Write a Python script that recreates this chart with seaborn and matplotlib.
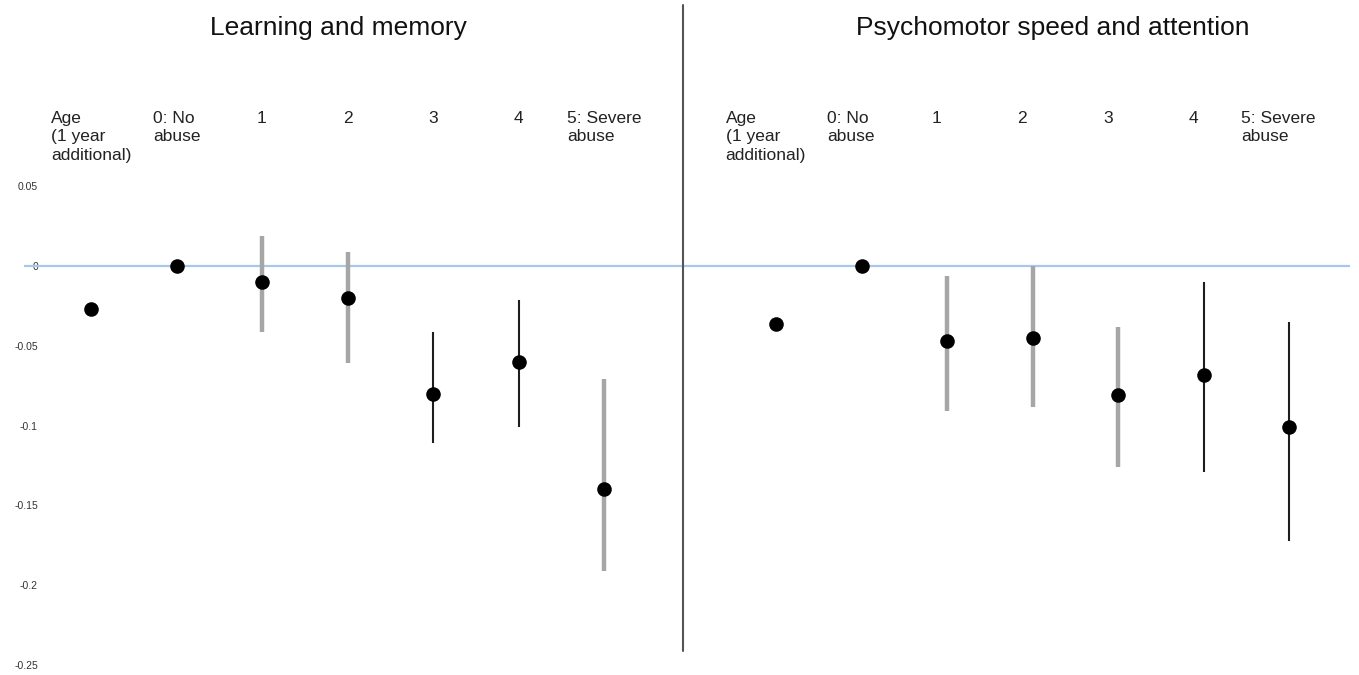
import numpy as np
import pandas as pd
import matplotlib
matplotlib.use('Agg')
import matplotlib.pyplot as plt
import seaborn as sns
from matplotlib.lines import Line2D

# 데이터
categories = ['Age\n(1 year\nadditional)', '0: No\nabuse', '1', '2', '3', '4', '5: Severe\nabuse']

learn_est = [-0.027, 0.0, -0.010, -0.020, -0.080, -0.060, -0.140]
learn_lo = [-0.029, 0.0, -0.041, -0.061, -0.111, -0.101, -0.191]
learn_hi = [-0.024, 0.0, 0.019, 0.009, -0.041, -0.021, -0.071]
learn_col = ['black', None, 'gray', 'gray', 'black', 'black', 'gray']

psy_est = [-0.036, 0.0, -0.047, -0.045, -0.081, -0.068, -0.101]
psy_lo = [-0.039, 0.0, -0.091, -0.088, -0.126, -0.129, -0.172]
psy_hi = [-0.033, 0.0, -0.006, 0.0, -0.038, -0.010, -0.035]
psy_col = ['black', None, 'gray', 'gray', 'gray', 'black', 'black']

ytick_vals = [0.05, 0, -0.05, -0.1, -0.15, -0.2, -0.25]
ytick_labels = ['0.05', '0', '-0.05', '-0.1', '-0.15', '-0.2', '-0.25']

titles = ['Learning and memory', 'Psychomotor speed and attention']

sns.set_style('white')
plt.rcParams['font.family'] = ['Liberation Sans', 'DejaVu Sans']

W, H = 1359, 675
fig = plt.figure(figsize=(W / 100, H / 100), dpi=100)

y0_px, scale = 266.3, 1597.0
ytop = (y0_px - 5) / scale
ybot = -0.25
step = 85.5


def make_ax(left_px, right_px, first_px):
    ax = fig.add_axes([left_px / W, (H - 665) / H, (right_px - left_px) / W, 660 / H])
    ax.set_xlim((left_px - first_px) / step, (right_px - first_px) / step)
    ax.set_ylim(ybot, ytop)
    for s in ax.spines.values():
        s.set_visible(False)
    return ax


ax1 = make_ax(24, 683, 91)
ax2 = make_ax(683, 1350, 776)

bar_style = {'gray': dict(color='#a6a6a6', lw=3.2), 'black': dict(color='#1e1e1e', lw=1.5)}

panels = [(ax1, learn_est, learn_lo, learn_hi, learn_col, 0),
          (ax2, psy_est, psy_lo, psy_hi, psy_col, -0.12)]

for ax, est, lo, hi, col, shift in panels:
    ax.axhline(0, color='#a8c8ea', lw=1.6, zorder=1)
    pos = np.arange(len(categories))
    for i in range(len(categories)):
        if col[i] is None:
            continue
        ax.vlines(pos[i], lo[i], hi[i], zorder=2, **bar_style[col[i]])
    df = pd.DataFrame({'pos': pos, 'est': est})
    sns.scatterplot(data=df, x='pos', y='est', ax=ax, color='black', s=110,
                    edgecolor='black', linewidth=0, zorder=3)
    ax.set_xlabel('')
    ax.set_ylabel('')
    ax.set_xticks([])
    for i, lab in enumerate(categories):
        ax.text(pos[i] + shift, 0.0975, lab, ha='center', va='top', multialignment='left',
                fontsize=12.5, color='#222222', linespacing=1.3)

ax1.set_yticks(ytick_vals)
ax1.set_yticklabels(ytick_labels)
ax1.tick_params(axis='y', length=0, pad=-10, labelsize=7.5, colors='#333333')
ax2.set_yticks([])

# 제목과 구분선
fig.text(338 / W, 1 - 28 / H, titles[0], ha='center', va='center', fontsize=19, color='#111111')
fig.text(1053 / W, 1 - 28 / H, titles[1], ha='center', va='center', fontsize=19, color='#111111')
fig.add_artist(Line2D([683 / W, 683 / W], [1 - 5 / H, 1 - 651 / H], color='#555555', lw=1.5))

plt.savefig('out.png', dpi=100)
